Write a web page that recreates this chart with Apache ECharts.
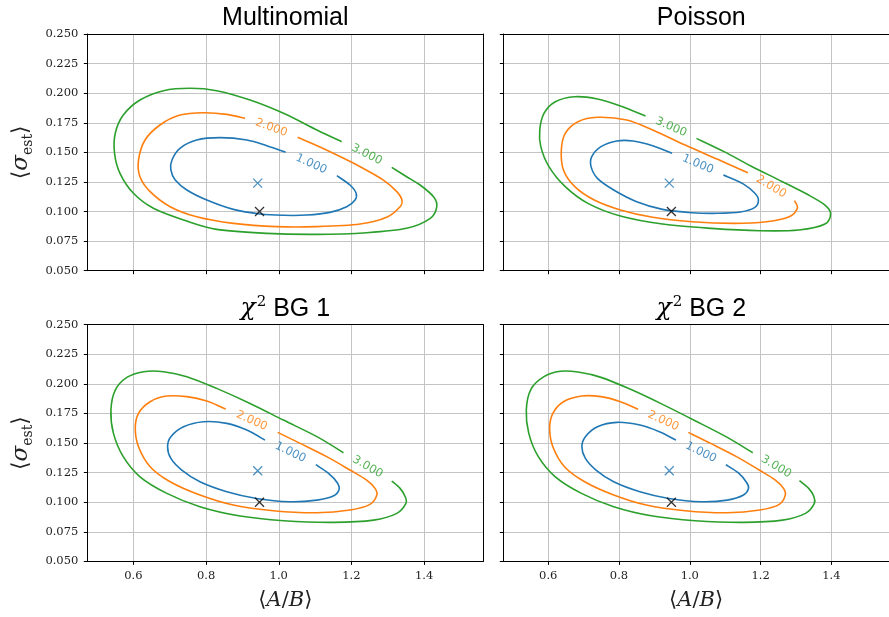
<!DOCTYPE html>
<html><head><meta charset="utf-8">
<script src="https://cdn.jsdelivr.net/npm/echarts@6/dist/echarts.min.js"></script>
<style>html,body{margin:0;padding:0;background:#fff}#c{width:889px;height:617px}</style>
</head><body><div id="c"></div>
<script>
// ---------- data ----------
const xTicks = [0.6, 0.8, 1.0, 1.2, 1.4];
const xMin = 0.473, xMax = 1.563;
const yMin = 0.05, yMax = 0.25, yStep = 0.025;
const panelTitles = ['Multinomial', 'Poisson', '{chi|χ}{sup|2}{t| BG 1}', '{chi|χ}{sup|2}{t| BG 2}'];
const levelLabels = ['1.000', '2.000', '3.000'];

// contours: each runs from one end of the label gap, round the curve, to the other end
const multinomialL1 = [[1.019,0.150],[0.967,0.1556],[0.912,0.1604],[0.839,0.1624],[0.774,0.1604],[0.728,0.1534],[0.706,0.1435],[0.703,0.1351],[0.715,0.1266],[0.747,0.1182],[0.802,0.1097],[0.875,0.1018],[0.949,0.0979],[1.013,0.0968],[1.077,0.0970],[1.141,0.0993],[1.187,0.1041],[1.210,0.1097],[1.213,0.1154],[1.196,0.1224],[1.160,0.1303]];
const multinomialL2 = [[0.907,0.1787],[0.857,0.1821],[0.793,0.1835],[0.728,0.1815],[0.673,0.1731],[0.632,0.1604],[0.614,0.1435],[0.618,0.1294],[0.646,0.1168],[0.701,0.1041],[0.774,0.0956],[0.875,0.0900],[0.994,0.0872],[1.105,0.0872],[1.224,0.0894],[1.297,0.0951],[1.334,0.1041],[1.339,0.1097],[1.325,0.1168],[1.288,0.1266],[1.224,0.1379],[1.150,0.1492],[1.095,0.1570],[1.052,0.1627]];
const multinomialL3 = [[1.173,0.159],[1.105,0.1689],[1.013,0.183],[0.921,0.1942],[0.829,0.2021],[0.756,0.2041],[0.683,0.2021],[0.618,0.1942],[0.572,0.1815],[0.550,0.1661],[0.548,0.1492],[0.563,0.1323],[0.600,0.1154],[0.655,0.1027],[0.738,0.0928],[0.829,0.0849],[0.967,0.0815],[1.105,0.0807],[1.242,0.0821],[1.352,0.0858],[1.417,0.0942],[1.435,0.1041],[1.426,0.1125],[1.389,0.1224],[1.352,0.1294],[1.311,0.1373]];

const poissonL1 = [[0.950,0.1492],[0.895,0.1556],[0.840,0.1596],[0.794,0.1596],[0.749,0.1548],[0.723,0.1463],[0.721,0.1379],[0.739,0.128],[0.785,0.1182],[0.850,0.1083],[0.923,0.1018],[1.006,0.099],[1.079,0.0985],[1.143,0.0996],[1.184,0.1035],[1.194,0.1097],[1.184,0.1154],[1.152,0.1232],[1.095,0.1308]];
const poissonL2 = [[1.164,0.1328],[1.079,0.1441],[0.987,0.1562],[0.895,0.1689],[0.822,0.1773],[0.739,0.1796],[0.684,0.1759],[0.648,0.1661],[0.637,0.152],[0.643,0.1351],[0.675,0.121],[0.730,0.1097],[0.804,0.1013],[0.895,0.0951],[1.006,0.0914],[1.125,0.090],[1.217,0.0914],[1.281,0.0956],[1.304,0.1027],[1.296,0.1092]];
const poissonL3 = [[0.875,0.1807],[0.804,0.1892],[0.739,0.1951],[0.675,0.197],[0.620,0.1928],[0.588,0.183],[0.576,0.1689],[0.579,0.1548],[0.602,0.1379],[0.648,0.121],[0.712,0.1069],[0.804,0.0962],[0.923,0.0894],[1.061,0.0858],[1.198,0.0838],[1.308,0.0844],[1.382,0.0894],[1.398,0.0985],[1.382,0.1055],[1.336,0.1139],[1.262,0.1252],[1.171,0.1387],[1.097,0.1506],[1.019,0.1618]];

const bg1L1 = [[0.962,0.1525],[0.912,0.161],[0.857,0.1666],[0.793,0.168],[0.738,0.1638],[0.703,0.1554],[0.694,0.1469],[0.703,0.137],[0.733,0.1272],[0.783,0.1173],[0.857,0.1089],[0.939,0.1032],[1.031,0.1004],[1.105,0.1018],[1.150,0.1052],[1.166,0.1108],[1.161,0.1165],[1.137,0.1244],[1.102,0.1317]];
const bg1L2 = [[0.854,0.1787],[0.802,0.1855],[0.747,0.1892],[0.692,0.1897],[0.646,0.1849],[0.614,0.1751],[0.605,0.1624],[0.614,0.1469],[0.646,0.130],[0.701,0.1173],[0.783,0.1061],[0.875,0.0976],[0.985,0.0928],[1.105,0.0911],[1.196,0.0934],[1.251,0.0982],[1.270,0.1061],[1.265,0.1117],[1.242,0.1187],[1.196,0.1272],[1.132,0.1385],[1.059,0.1497],[0.997,0.159]];
const bg1L3 = [[1.178,0.1418],[1.105,0.1554],[1.013,0.1694],[0.921,0.1835],[0.829,0.1962],[0.747,0.2061],[0.683,0.2103],[0.628,0.2103],[0.582,0.2055],[0.550,0.1948],[0.538,0.1779],[0.545,0.1582],[0.572,0.1385],[0.618,0.1215],[0.692,0.1075],[0.783,0.0962],[0.894,0.0883],[1.013,0.0844],[1.150,0.083],[1.261,0.0849],[1.325,0.0906],[1.350,0.099],[1.348,0.1046],[1.334,0.1117],[1.311,0.1179]];

const bg2L1 = [[0.961,0.1525],[0.914,0.1596],[0.859,0.1652],[0.794,0.1675],[0.739,0.1638],[0.705,0.1554],[0.695,0.1469],[0.705,0.137],[0.735,0.1272],[0.785,0.1173],[0.859,0.1089],[0.941,0.1032],[1.033,0.1004],[1.106,0.1018],[1.152,0.1061],[1.166,0.1117],[1.161,0.1165],[1.139,0.1244],[1.102,0.1317]];
const bg2L2 = [[0.854,0.1785],[0.804,0.1849],[0.749,0.1892],[0.694,0.1897],[0.643,0.1849],[0.613,0.1751],[0.604,0.1624],[0.613,0.1469],[0.646,0.130],[0.703,0.1173],[0.785,0.1061],[0.877,0.0976],[0.987,0.0928],[1.106,0.0911],[1.198,0.0934],[1.253,0.0982],[1.270,0.1061],[1.265,0.1117],[1.242,0.1187],[1.196,0.1272],[1.132,0.1385],[1.059,0.1497],[0.996,0.159]];
const bg2L3 = [[1.178,0.1418],[1.106,0.1548],[1.015,0.1689],[0.923,0.1827],[0.831,0.1956],[0.749,0.2055],[0.684,0.210],[0.634,0.2106],[0.588,0.2061],[0.551,0.1954],[0.538,0.1779],[0.545,0.1582],[0.572,0.1385],[0.620,0.1215],[0.694,0.1075],[0.785,0.0962],[0.895,0.0883],[1.015,0.0844],[1.152,0.083],[1.262,0.0849],[1.327,0.0906],[1.352,0.099],[1.350,0.1052],[1.336,0.1117],[1.310,0.1182]];

const bestFit = [[0.942,0.124],[0.942,0.124],[0.942,0.1266],[0.942,0.1266]];
const truth   = [[0.947,0.100],[0.948,0.100],[0.947,0.100],[0.948,0.100]];

const contours = [
  [multinomialL1, multinomialL2, multinomialL3],
  [poissonL1, poissonL2, poissonL3],
  [bg1L1, bg1L2, bg1L3],
  [bg2L1, bg2L2, bg2L3]
];

// ---------- layout / style ----------
const colors = ['#1f77b4', '#ff7f0e', '#2ca02c'];
const gridW = 396, gridH = 236.7;
const lefts = [87.3, 503.3, 87.3, 503.3];
const tops = [34, 34, 324.7, 324.7];
const serif = '"DejaVu Serif", "Liberation Serif", serif';
const sans = '"Liberation Sans", Arial, sans-serif';
const crossPath = 'path://M0,0L10,10M10,0L0,10';

const chart = echarts.init(document.getElementById('c'), null, {renderer: 'canvas'});

// smooth curve through the data points (Catmull-Rom) in pixel space via the axes
function contourRenderer(pts, color) {
  return function (params, api) {
    if (params.dataIndex !== 0) return null;
    const c = pts.map(p => api.coord(p));
    let d = 'M' + c[0][0] + ' ' + c[0][1];
    for (let i = 0; i < c.length - 1; i++) {
      const p0 = c[Math.max(i - 1, 0)], p1 = c[i], p2 = c[i + 1], p3 = c[Math.min(i + 2, c.length - 1)];
      const c1x = p1[0] + (p2[0] - p0[0]) / 6, c1y = p1[1] + (p2[1] - p0[1]) / 6;
      const c2x = p2[0] - (p3[0] - p1[0]) / 6, c2y = p2[1] - (p3[1] - p1[1]) / 6;
      d += 'C' + c1x + ' ' + c1y + ' ' + c2x + ' ' + c2y + ' ' + p2[0] + ' ' + p2[1];
    }
    return {type: 'path', shape: {pathData: d}, style: {stroke: color, fill: null, lineWidth: 1.6}, silent: true};
  };
}

const grids = [], xAxes = [], yAxes = [], titles = [], series = [];
for (let p = 0; p < 4; p++) {
  const col = p % 2, row = Math.floor(p / 2);
  grids.push({left: lefts[p], top: tops[p], width: gridW, height: gridH, containLabel: false});
  titles.push({
    text: panelTitles[p], left: lefts[p] + gridW / 2, top: tops[p] - 30, textAlign: 'center', padding: 0,
    textStyle: {
      fontFamily: sans, fontSize: 25, fontWeight: 'normal', color: '#000', lineHeight: 28,
      rich: {
        chi: {fontFamily: serif, fontStyle: 'italic', fontSize: 25, color: '#000', lineHeight: 28},
        sup: {fontFamily: serif, fontSize: 15, color: '#000', verticalAlign: 'top', lineHeight: 15, padding: [0, 0, 0, 1]},
        t: {fontFamily: sans, fontSize: 25, color: '#000', lineHeight: 28}
      }
    }
  });
  xAxes.push({
    type: 'value', gridIndex: p, min: xMin, max: xMax, position: 'bottom', z: 1,
    axisLine: {show: true, onZero: false, lineStyle: {color: '#000', width: 1}},
    axisTick: {show: true, inside: false, length: 3.5, customValues: xTicks, lineStyle: {color: '#000', width: 1}},
    axisLabel: {show: row === 1, customValues: xTicks, margin: 9, fontFamily: serif, fontSize: 11.5, color: '#222',
      formatter: v => v.toFixed(1)},
    splitLine: {show: true, lineStyle: {color: '#c4c4c4', width: 1}},
    name: row === 1 ? '{a|⟨}{i|A}{n|/}{i|B}{a|⟩}' : '', nameLocation: 'middle', nameGap: 29,
    nameTextStyle: {
      fontFamily: serif, fontSize: 20, color: '#222',
      rich: {
        a: {fontFamily: serif, fontSize: 21, color: '#222'},
        i: {fontFamily: serif, fontStyle: 'italic', fontSize: 21, color: '#222'},
        n: {fontFamily: serif, fontSize: 21, color: '#222'}
      }
    }
  });
  xAxes.push({
    type: 'value', gridIndex: p, min: xMin, max: xMax, position: 'top', z: 3,
    axisLine: {show: true, onZero: false, lineStyle: {color: '#000', width: 1}},
    axisTick: {show: false}, axisLabel: {show: false}, splitLine: {show: false}
  });
  yAxes.push({
    type: 'value', gridIndex: p, min: yMin, max: yMax, interval: yStep, position: 'left', z: 0,
    axisLine: {show: true, onZero: false, lineStyle: {color: '#000', width: 1}},
    axisTick: {show: true, inside: false, length: 3.5, lineStyle: {color: '#000', width: 1}},
    axisLabel: {show: col === 0, margin: 9, fontFamily: serif, fontSize: 11.5, color: '#222',
      formatter: v => v.toFixed(3)},
    splitLine: {show: true, lineStyle: {color: '#c4c4c4', width: 1}},
    name: col === 0 ? '{a|⟨}{s|σ}{sub|est}{a|⟩}' : '', nameLocation: 'middle', nameRotate: 90, nameGap: 52,
    nameTextStyle: {
      fontFamily: serif, fontSize: 22, color: '#222',
      rich: {
        a: {fontFamily: serif, fontSize: 22, color: '#222', lineHeight: 28},
        s: {fontFamily: serif, fontStyle: 'italic', fontSize: 23, color: '#222', lineHeight: 28},
        sub: {fontFamily: serif, fontSize: 14, color: '#222', verticalAlign: 'bottom', lineHeight: 20}
      }
    }
  });
  yAxes.push({
    type: 'value', gridIndex: p, min: yMin, max: yMax, position: 'right', z: 3,
    axisLine: {show: true, onZero: false, lineStyle: {color: '#000', width: 1}},
    axisTick: {show: false}, axisLabel: {show: false}, splitLine: {show: false}
  });
  for (let l = 0; l < 3; l++) {
    series.push({
      type: 'custom', xAxisIndex: 2 * p, yAxisIndex: 2 * p, data: contours[p][l], z: 4, silent: true,
      renderItem: contourRenderer(contours[p][l], colors[l])
    });
  }
  series.push({
    type: 'scatter', xAxisIndex: 2 * p, yAxisIndex: 2 * p, data: [bestFit[p]], symbol: crossPath, symbolSize: 9, z: 5,
    itemStyle: {color: colors[0], borderColor: colors[0], borderWidth: 1.3}, silent: true
  });
  series.push({
    type: 'scatter', xAxisIndex: 2 * p, yAxisIndex: 2 * p, data: [truth[p]], symbol: crossPath, symbolSize: 9, z: 5,
    itemStyle: {color: '#000', borderColor: '#000', borderWidth: 1.3}, silent: true
  });
}

chart.setOption({
  animation: false, backgroundColor: '#fff',
  title: titles, grid: grids, xAxis: xAxes, yAxis: yAxes, series: series
});

// contour labels: placed in each gap, rotated along the gap direction
const labelSeries = [];
for (let p = 0; p < 4; p++) {
  const items = [];
  for (let l = 0; l < 3; l++) {
    const pts = contours[p][l];
    const a = pts[0], b = pts[pts.length - 1];
    const pa = chart.convertToPixel({xAxisIndex: 2 * p, yAxisIndex: 2 * p}, a);
    const pb = chart.convertToPixel({xAxisIndex: 2 * p, yAxisIndex: 2 * p}, b);
    let dx = pb[0] - pa[0], dy = pb[1] - pa[1];
    if (dx < 0) { dx = -dx; dy = -dy; }
    const ang = -Math.atan2(dy, dx) * 180 / Math.PI;
    items.push({
      name: levelLabels[l], value: [(a[0] + b[0]) / 2, (a[1] + b[1]) / 2],
      label: {rotate: ang, color: colors[l]}
    });
  }
  labelSeries.push({
    type: 'scatter', xAxisIndex: 2 * p, yAxisIndex: 2 * p, data: items, symbolSize: 1, z: 6, silent: true,
    itemStyle: {color: 'rgba(0,0,0,0)'},
    label: {show: true, position: 'inside', formatter: '{b}', fontFamily: '"DejaVu Sans", sans-serif', fontSize: 11.5}
  });
}
chart.setOption({series: series.concat(labelSeries)});
</script>
</body></html>
